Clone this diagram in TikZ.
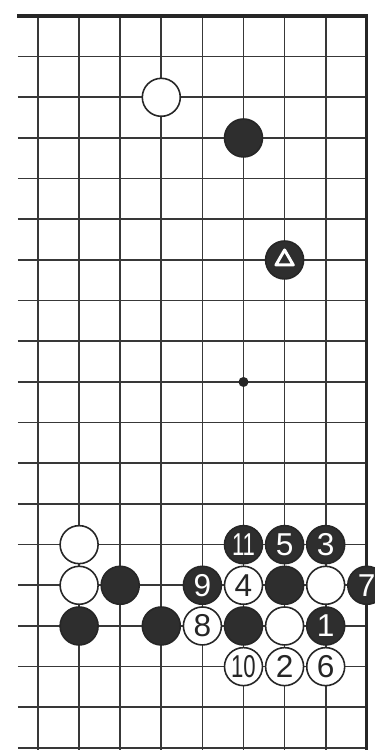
\documentclass[tikz,border=0pt]{standalone}
\usepackage{fontspec}
\setsansfont{Liberation Sans}
\usepackage{graphicx}
\newcommand{\twodig}[1]{\scalebox{0.7}[1]{#1}}
\begin{document}
\begin{tikzpicture}[
  x=0.822cm, y=-0.8134cm,
  gridline/.style={line width=0.95pt, black!78},
  edgeline/.style={line width=1.8pt, black!85},
  stone/.style={circle, draw=black!85, line width=0.9pt, minimum size=0.76cm,
                inner sep=0pt, font=\sffamily\fontsize{18}{18}\selectfont},
  bstone/.style={stone, fill=black!82, text=white},
  wstone/.style={stone, fill=white, text=black!85},
  starpt/.style={circle, fill=black!85, inner sep=0pt, minimum size=0.2cm}
]
  \useasboundingbox (-0.925,-0.393) rectangle (8.2,18.05);
  \clip (-0.925,-0.393) rectangle (8.2,18.05);
  \fill[white] (-0.925,-0.393) rectangle (8.2,18.05);

  % board lines
  \foreach \r in {1,...,18}
    \draw[gridline] (-0.49,\r) -- (8,\r);
  \foreach \c in {0,...,7}
    \draw[gridline] (\c,0) -- (\c,18.2);
  \draw[edgeline] (-0.51,0) -- (8,0) -- (8,18.2);

  \node[starpt] (hoshi) at (5,9) {};

  % upper stones
  \node[wstone] (wtop) at (3,2)  {};
  \node[bstone] (btop) at (5,3)  {};
  \node[bstone] (bmark) at (6,6) {};
  \draw[white, line width=1.7pt, line join=round, shift={(bmark.center)}]
    (90:0.2cm) -- (210:0.2cm) -- (330:0.2cm) -- cycle;

  % lower left
  \node[wstone] (wa) at (1,13) {};
  \node[wstone] (wb) at (1,14) {};
  \node[bstone] (ba) at (2,14) {};
  \node[bstone] (bb) at (1,15) {};
  \node[bstone] (bc) at (3,15) {};

  % lower right
  \node[bstone] (m11) at (5,13) {\twodig{11}};
  \node[bstone] (m5)  at (6,13) {5};
  \node[bstone] (m3)  at (7,13) {3};
  \node[bstone] (m9)  at (4,14) {9};
  \node[wstone] (m4)  at (5,14) {4};
  \node[bstone] (bd)  at (6,14) {};
  \node[wstone] (wc)  at (7,14) {};
  \node[bstone] (m7)  at (8,14) {7};
  \node[wstone] (m8)  at (4,15) {8};
  \node[bstone] (be)  at (5,15) {};
  \node[wstone] (wd)  at (6,15) {};
  \node[bstone] (m1)  at (7,15) {1};
  \node[wstone] (m10) at (5,16) {\twodig{10}};
  \node[wstone] (m2)  at (6,16) {2};
  \node[wstone] (m6)  at (7,16) {6};

\end{tikzpicture}
\end{document}
